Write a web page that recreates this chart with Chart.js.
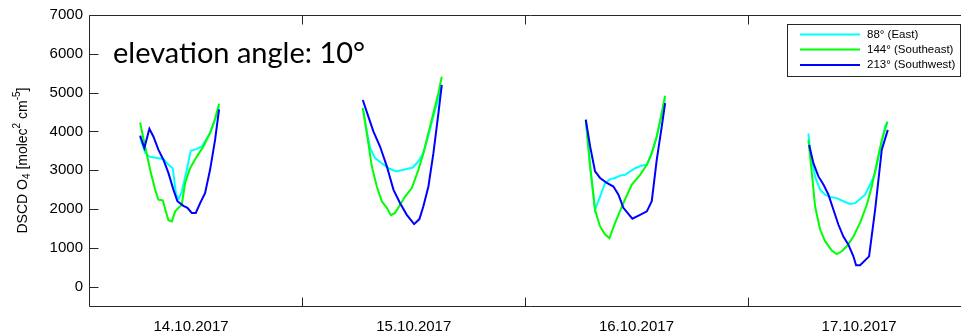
<!DOCTYPE html>
<html>
<head>
    <title>DSCD O4 - elevation angle 10°</title>
    <script src="https://cdn.jsdelivr.net/npm/chart.js@4.4.1/dist/chart.umd.min.js"></script>
    <style>
        html, body {
            margin: 0;
            padding: 0;
            background: #ffffff;
            overflow: hidden;
        }
        #chart {
            display: block;
        }
    </style>
</head>
<body>
    <canvas id="chart" width="984" height="332"></canvas>

    <script>
        // time axis is in hours since 14.10.2017 00:00, one sub-array per day
        const dayLabels = ['14.10.2017', '15.10.2017', '16.10.2017', '17.10.2017'];
        const dayCentres = [12, 36, 60, 84];
        const dayBoundaries = [24, 48, 72];
        const yTicks = [0, 1000, 2000, 3000, 4000, 5000, 6000, 7000];

        const seriesLabels = ['88° (East)', '144° (Southeast)', '213° (Southwest)'];
        const seriesColors = ['#00ffff', '#00ff00', '#0000ff'];

        const eastHours = [
            [6.51, 7.05, 7.51, 8.48, 9.02, 9.56, 10.03, 10.39, 10.68, 11.00, 11.47, 11.97, 12.62, 13.16, 14.05, 14.59, 15.02],
            [30.51, 30.94, 31.30, 31.83, 32.56, 33.27, 34.10, 34.88, 35.90, 36.50, 37.04, 37.58, 38.12, 38.66, 39.02],
            [54.54, 55.01, 55.54, 56.08, 56.62, 57.16, 57.70, 58.24, 58.78, 59.32, 59.86, 60.58, 61.12, 61.65, 62.19, 62.73, 63.09],
            [78.53, 78.71, 79.25, 79.79, 80.33, 80.87, 81.59, 82.30, 83.02, 83.56, 84.10, 84.64, 85.18, 85.72, 86.26, 86.80, 87.05]
        ];
        const eastValues = [
            [3850, 3450, 3350, 3310, 3290, 3140, 3050, 2370, 2260, 2450, 2930, 3500, 3550, 3610, 3950, 4310, 4650],
            [4600, 4000, 3570, 3310, 3180, 3050, 2970, 3010, 3070, 3230, 3440, 3900, 4400, 4850, 5150],
            [4300, 3100, 1980, 2320, 2670, 2770, 2800, 2860, 2880, 2970, 3050, 3120, 3140, 3440, 3870, 4470, 4850],
            [3950, 3530, 2840, 2500, 2370, 2310, 2280, 2200, 2130, 2150, 2260, 2370, 2630, 2930, 3530, 4130, 4250]
        ];

        const southeastHours = [
            [6.51, 7.05, 7.59, 8.13, 8.48, 8.96, 9.28, 9.56, 9.93, 10.29, 10.64, 11.00, 11.36, 11.90, 12.62, 13.33, 14.05, 14.59, 15.02],
            [30.51, 30.94, 31.48, 32.02, 32.56, 33.10, 33.53, 33.99, 34.53, 35.07, 35.79, 36.50, 37.04, 37.58, 38.12, 38.66, 39.02],
            [54.54, 55.01, 55.54, 56.08, 56.62, 57.09, 57.70, 58.59, 59.50, 60.39, 61.12, 61.65, 62.19, 62.73, 63.09],
            [78.53, 78.90, 79.25, 79.79, 80.33, 81.05, 81.59, 82.13, 82.67, 83.38, 84.10, 84.83, 85.36, 85.90, 86.44, 87.05]
        ];
        const southeastValues = [
            [4230, 3610, 3010, 2500, 2240, 2220, 1940, 1710, 1680, 1940, 2030, 2110, 2670, 3050, 3350, 3610, 3960, 4320, 4710],
            [4600, 3960, 3100, 2580, 2200, 2030, 1840, 1900, 2110, 2320, 2540, 3010, 3440, 3960, 4470, 4990, 5410],
            [4300, 3100, 1980, 1550, 1340, 1250, 1640, 2150, 2630, 2880, 3140, 3440, 3870, 4470, 4920],
            [3780, 2930, 2070, 1470, 1170, 930, 840, 910, 1040, 1290, 1640, 2110, 2580, 3180, 3780, 4250]
        ];

        const southwestHours = [
            [6.51, 6.97, 7.51, 7.94, 8.48, 9.02, 9.56, 10.10, 10.53, 11.18, 11.61, 12.08, 12.51, 12.98, 13.51, 14.05, 14.59, 15.02],
            [30.51, 31.11, 31.65, 32.37, 33.10, 33.81, 34.53, 35.25, 36.04, 36.61, 37.04, 37.58, 38.12, 38.66, 39.02],
            [54.54, 55.01, 55.54, 56.08, 56.81, 57.52, 58.06, 58.59, 59.56, 60.39, 61.12, 61.65, 62.19, 62.73, 63.09],
            [78.61, 79.07, 79.61, 80.15, 80.69, 81.23, 81.76, 82.30, 82.84, 83.38, 83.67, 84.10, 85.07, 85.72, 86.44, 87.09]
        ];
        const southwestValues = [
            [3890, 3570, 4070, 3870, 3530, 3270, 2930, 2500, 2200, 2080, 2030, 1900, 1900, 2150, 2410, 3010, 3780, 4570],
            [4810, 4380, 4000, 3610, 3100, 2500, 2150, 1850, 1610, 1740, 2070, 2580, 3440, 4470, 5200],
            [4300, 3610, 2970, 2800, 2670, 2580, 2370, 2030, 1750, 1850, 1940, 2200, 3270, 4130, 4730],
            [3650, 3180, 2840, 2630, 2370, 1980, 1600, 1290, 1080, 780, 550, 550, 780, 1980, 3530, 4040]
        ];

        const TICK_LEN = 9;
        const AXIS_COLOR = '#262626';

        // join the days into one series, with a null point between days so the line breaks
        function toPoints(hours, values) {
            const pts = [];
            hours.forEach((day, d) => {
                if (d > 0) pts.push({ x: day[0] - 1, y: null });
                day.forEach((h, i) => pts.push({ x: h, y: values[d][i] }));
            });
            return pts;
        }

        // draws text made of normal / sub / sup parts, centred on x=0
        function drawRichText(ctx, parts, size) {
            const small = Math.round(size * 0.72);
            let total = 0;
            parts.forEach(p => {
                ctx.font = (p.sub || p.sup ? small : size) + 'px "Liberation Sans", Arial, sans-serif';
                p.w = ctx.measureText(p.t).width;
                total += p.w;
            });
            let x = -total / 2;
            parts.forEach(p => {
                ctx.font = (p.sub || p.sup ? small : size) + 'px "Liberation Sans", Arial, sans-serif';
                let dy = 0;
                if (p.sub) dy = size * 0.3;
                if (p.sup) dy = -size * 0.38;
                ctx.fillText(p.t, x, dy);
                x += p.w;
            });
        }

        const axesBox = {
            id: 'axesBox',
            afterDatasetsDraw(chart) {
                const { ctx, chartArea: a, scales: { x, y } } = chart;
                const L = Math.round(a.left) + 0.5;
                const T = Math.round(a.top) + 0.5;
                const B = Math.round(a.bottom) + 0.5;
                const R = Math.round(a.right) + 0.5;

                ctx.save();
                ctx.strokeStyle = AXIS_COLOR;
                ctx.lineWidth = 1;
                ctx.beginPath();
                ctx.moveTo(R, T);
                ctx.lineTo(L, T);
                ctx.lineTo(L, B);
                ctx.lineTo(R, B);

                // inward ticks
                yTicks.forEach(v => {
                    const py = Math.round(y.getPixelForValue(v)) + 0.5;
                    ctx.moveTo(L, py);
                    ctx.lineTo(L + TICK_LEN, py);
                });
                dayBoundaries.forEach(h => {
                    const px = Math.round(x.getPixelForValue(h)) + 0.5;
                    ctx.moveTo(px, B);
                    ctx.lineTo(px, B - TICK_LEN);
                    ctx.moveTo(px, T);
                    ctx.lineTo(px, T + TICK_LEN);
                });
                ctx.stroke();

                // legend box
                const lx = 787.5, ly = 24.5, lw = 173, lh = 52;
                ctx.fillStyle = '#ffffff';
                ctx.fillRect(lx, ly, lw, lh);
                ctx.strokeRect(lx, ly, lw, lh);
                const rows = [34.5, 49.5, 65];
                chart.data.datasets.forEach((ds, i) => {
                    ctx.strokeStyle = ds.borderColor;
                    ctx.lineWidth = 2;
                    ctx.beginPath();
                    ctx.moveTo(800, rows[i]);
                    ctx.lineTo(860, rows[i]);
                    ctx.stroke();
                    ctx.fillStyle = '#000000';
                    ctx.font = '11.5px "Liberation Sans", Arial, sans-serif';
                    ctx.textBaseline = 'middle';
                    ctx.textAlign = 'left';
                    ctx.fillText(ds.label, 867, rows[i]);
                });
                ctx.restore();
            },
            afterDraw(chart) {
                const { ctx, chartArea: a } = chart;
                ctx.save();
                // panel title inside the axes
                ctx.fillStyle = '#000000';
                ctx.font = '29px Lato, "Open Sans", sans-serif';
                ctx.textBaseline = 'alphabetic';
                ctx.textAlign = 'left';
                ctx.fillText('elevation angle: 10°', 113, 63);

                // y axis label with sub- and superscripts
                ctx.translate(23, (a.top + a.bottom) / 2);
                ctx.rotate(-Math.PI / 2);
                ctx.textBaseline = 'middle';
                ctx.textAlign = 'left';
                ctx.fillStyle = '#000000';
                drawRichText(ctx, [
                    { t: 'DSCD O' },
                    { t: '4', sub: true },
                    { t: ' [molec' },
                    { t: '2', sup: true },
                    { t: ' cm' },
                    { t: '-5', sup: true },
                    { t: ']' }
                ], 14);
                ctx.restore();
            }
        };

        const seriesHours = [eastHours, southeastHours, southwestHours];
        const seriesValues = [eastValues, southeastValues, southwestValues];

        const datasets = seriesLabels.map((label, i) => ({
            label: label,
            data: toPoints(seriesHours[i], seriesValues[i]),
            borderColor: seriesColors[i],
            backgroundColor: seriesColors[i],
            borderWidth: 2,
            pointRadius: 0,
            tension: 0,
            spanGaps: false,
            order: 2 - i
        }));

        const tickFont = { family: '"Liberation Sans", Arial, sans-serif', size: 15, lineHeight: 1 };

        // the canvas is a little wider than the window so the right edge of the box is cut off, as in the original
        new Chart(document.getElementById('chart'), {
            type: 'line',
            data: { datasets: datasets },
            options: {
                responsive: false,
                animation: false,
                events: [],
                layout: {
                    padding: { top: 15, left: 43.6, right: 13.5, bottom: -15 }
                },
                plugins: {
                    legend: { display: false },
                    tooltip: { enabled: false }
                },
                scales: {
                    x: {
                        type: 'linear',
                        min: 1,
                        max: 96,
                        grid: { display: false, drawTicks: false },
                        border: { display: false },
                        afterBuildTicks: axis => {
                            axis.ticks = dayCentres.map(v => ({ value: v }));
                        },
                        ticks: {
                            callback: (v, i) => dayLabels[i],
                            font: tickFont,
                            color: '#000000',
                            padding: 13,
                            maxRotation: 0,
                            autoSkip: false
                        }
                    },
                    y: {
                        min: -500,
                        max: 7000,
                        grid: { display: false, drawTicks: false },
                        border: { display: false },
                        afterBuildTicks: axis => {
                            axis.ticks = yTicks.map(v => ({ value: v }));
                        },
                        ticks: {
                            callback: v => String(v),
                            font: tickFont,
                            color: '#000000',
                            padding: 6
                        }
                    }
                }
            },
            plugins: [axesBox]
        });
    </script>
</body>
</html>
